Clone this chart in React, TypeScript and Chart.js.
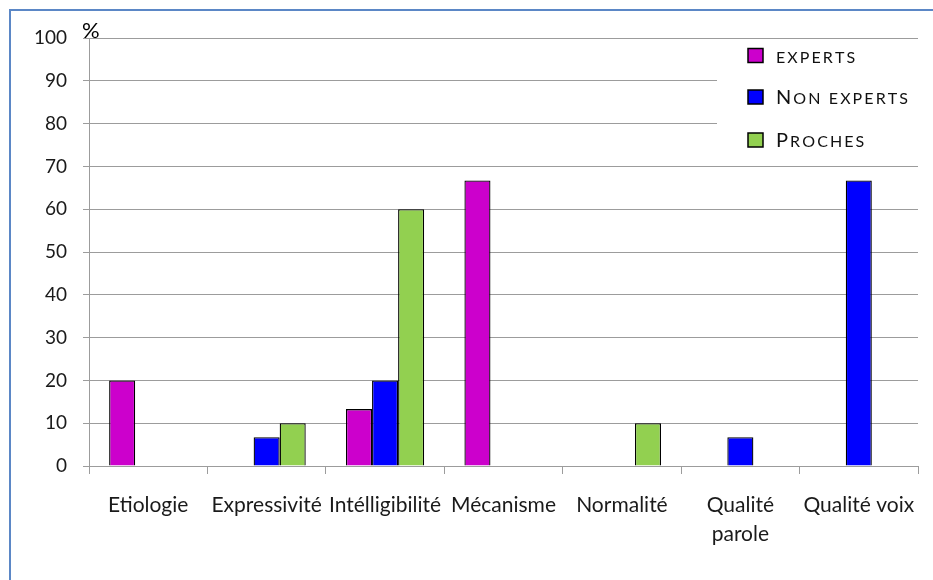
import React, { useEffect, useRef } from "react";
import { Chart, registerables } from "chart.js";

Chart.register(...registerables);

const categories: (string | string[])[] = [
  "Etiologie",
  "Expressivité",
  "Intélligibilité",
  "Mécanisme",
  "Normalité",
  ["Qualité", "parole"],
  "Qualité voix",
];
const seriesNames = ["experts", "Non experts", "Proches"];
const seriesColors = ["#cc00cc", "#0000ff", "#92d050"];
const experts = [20, 0, 13.3, 66.7, 0, 0, 0];
const nonExperts = [0, 6.7, 20, 0, 0, 6.7, 66.7];
const proches = [0, 10, 60, 0, 10, 0, 0];
const yMin = 0;
const yMax = 100;
const yStep = 10;
const yUnit = "%";

const FONT = "Lato, 'Open Sans', sans-serif";
const GRID = "#9c9c9c";

const legendPlugin = {
  id: "smallCapsLegend",
  beforeDatasetsDraw(chart: any) {
    const ctx = chart.ctx;
    const area = chart.chartArea;
    ctx.save();
    ctx.fillStyle = "#ffffff";
    ctx.fillRect(area.right - 201, area.top + 2, 201, 122);
    ctx.restore();
  },
  afterDraw(chart: any) {
    const ctx = chart.ctx;
    const area = chart.chartArea;
    ctx.save();
    const boxX = area.right - 170;
    const textX = area.right - 142;
    const baselines = [area.top + 24.5, area.top + 66, area.top + 109];
    seriesNames.forEach((name, i) => {
      const b = baselines[i];
      ctx.fillStyle = seriesColors[i];
      ctx.fillRect(boxX, b - 14, 15, 14);
      ctx.strokeStyle = "#000";
      ctx.lineWidth = 1.5;
      ctx.strokeRect(boxX, b - 14, 15, 14);
      let x = textX;
      ctx.fillStyle = "#111";
      ctx.textBaseline = "alphabetic";
      ctx.textAlign = "left";
      for (const ch of name) {
        const big = ch !== ch.toLowerCase();
        ctx.font = (big ? "20px " : "16px ") + FONT;
        const u = ch.toUpperCase();
        ctx.fillText(u, x, b);
        x += ctx.measureText(u).width + 2.1;
      }
    });
    // unit label
    ctx.font = "22px " + FONT;
    ctx.fillStyle = "#000";
    ctx.textBaseline = "alphabetic";
    ctx.fillText(yUnit, area.left - 7, area.top);
    ctx.restore();
  },
};

export default function App() {
  const ref = useRef<HTMLCanvasElement | null>(null);
  useEffect(() => {
    if (!ref.current) return;
    const toBar = (arr: number[]) => arr.map((v) => (v === 0 ? null : v));
    const chart = new Chart(ref.current, {
      type: "bar",
      data: {
        labels: categories,
        datasets: [experts, nonExperts, proches].map((d, i) => ({
          label: seriesNames[i],
          data: toBar(d),
          backgroundColor: seriesColors[i],
          borderColor: "#000",
          borderWidth: 1.3,
          barPercentage: 1,
          categoryPercentage: 0.66,
        })),
      },
      options: {
        responsive: false,
        animation: false,
        layout: { padding: { top: 38, right: 15, left: 0, bottom: 0 } },
        plugins: {
          legend: { display: false },
          tooltip: { enabled: false },
        },
        scales: {
          x: {
            afterFit: (s: any) => {
              s.height = 114;
            },
            grid: {
              drawOnChartArea: false,
              drawTicks: true,
              tickLength: 8,
              color: GRID,
              offset: true,
            },
            border: { color: GRID, width: 1 },
            ticks: {
              autoSkip: false,
              maxRotation: 0,
              minRotation: 0,
              padding: 17,
              color: "#1a1a1a",
              font: { family: FONT, size: 21, lineHeight: 1.38 },
            },
          },
          y: {
            min: yMin,
            max: yMax,
            afterFit: (s: any) => {
              s.width = 89;
            },
            grid: { color: GRID, tickLength: 6 },
            border: { color: GRID, width: 1 },
            ticks: {
              stepSize: yStep,
              padding: 16,
              color: "#1a1a1a",
              font: { family: FONT, size: 19 },
            },
          },
        },
      },
      plugins: [legendPlugin],
    });
    return () => chart.destroy();
  }, []);

  return (
    <div
      style={{
        position: "fixed",
        left: 0,
        top: 0,
        width: 933,
        height: 580,
        overflow: "hidden",
        background: "#fff",
      }}
    >
      <canvas ref={ref} width={933} height={580} style={{ position: "absolute", left: 0, top: 0 }} />
      <div
        style={{
          position: "absolute",
          left: 9,
          top: 9,
          width: 1000,
          height: 700,
          borderTop: "2px solid #5b87c6",
          borderLeft: "2px solid #5b87c6",
          pointerEvents: "none",
        }}
      />
    </div>
  );
}
